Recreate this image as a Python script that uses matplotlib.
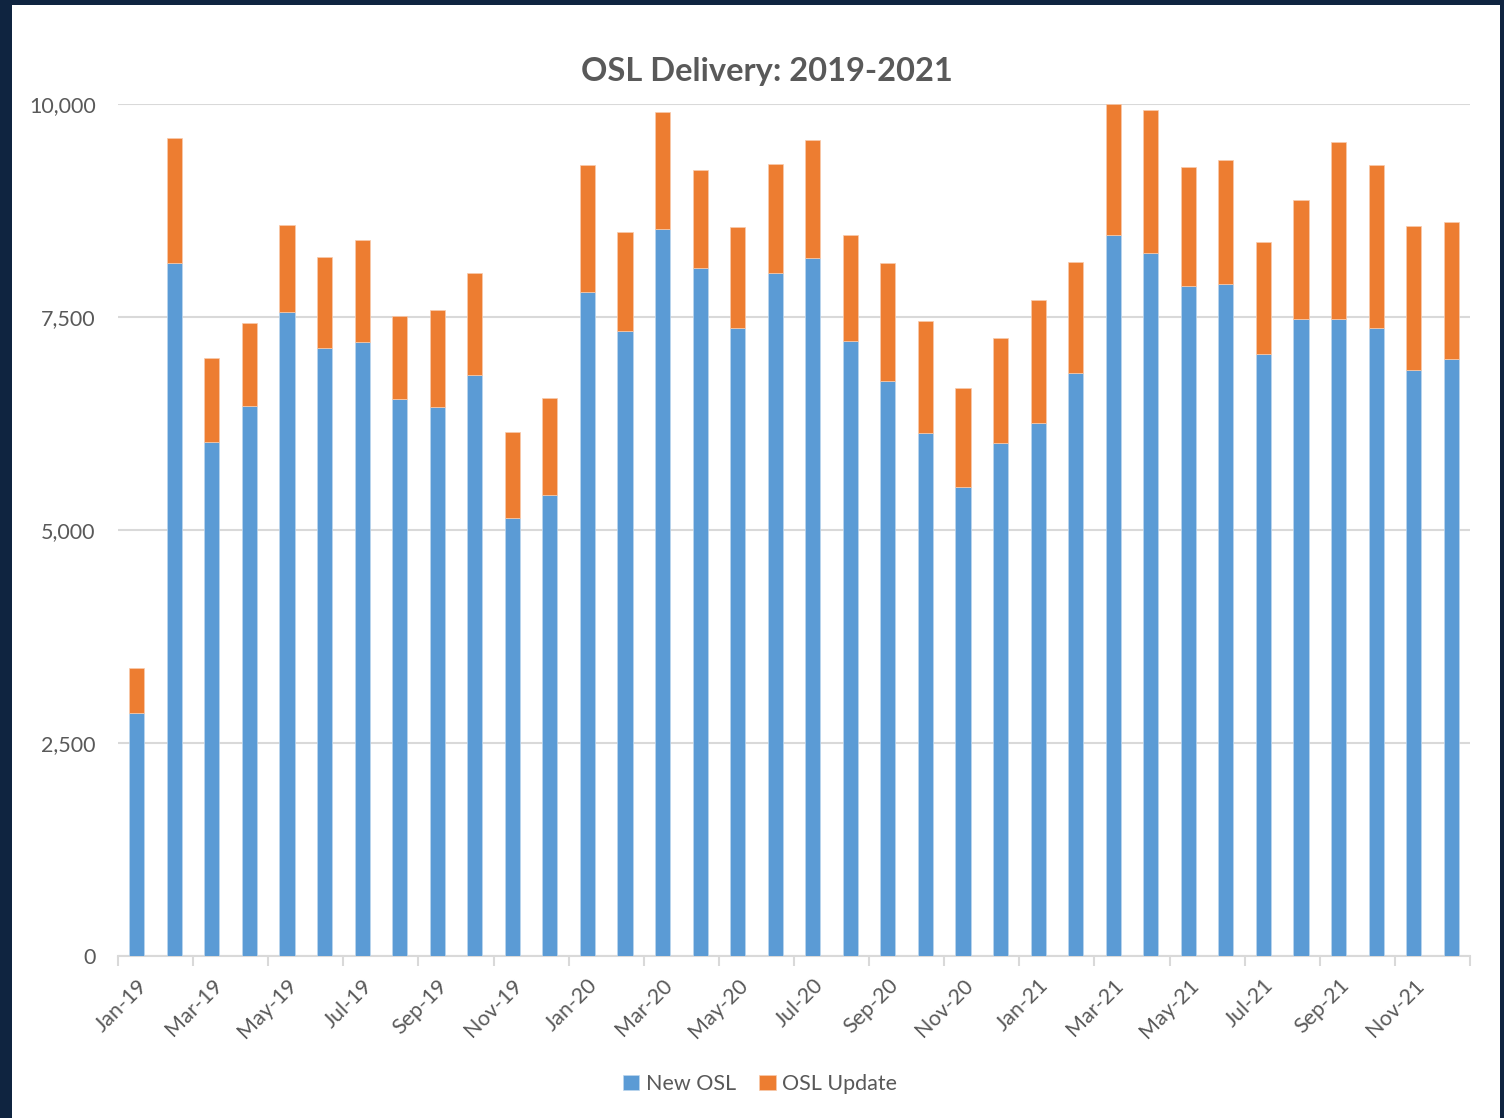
import numpy as np
import matplotlib
matplotlib.use('Agg')
import matplotlib.pyplot as plt
from matplotlib.patches import Rectangle
from matplotlib.ticker import FuncFormatter

months = ['Jan-19', 'Feb-19', 'Mar-19', 'Apr-19', 'May-19', 'Jun-19',
          'Jul-19', 'Aug-19', 'Sep-19', 'Oct-19', 'Nov-19', 'Dec-19',
          'Jan-20', 'Feb-20', 'Mar-20', 'Apr-20', 'May-20', 'Jun-20',
          'Jul-20', 'Aug-20', 'Sep-20', 'Oct-20', 'Nov-20', 'Dec-20',
          'Jan-21', 'Feb-21', 'Mar-21', 'Apr-21', 'May-21', 'Jun-21',
          'Jul-21', 'Aug-21', 'Sep-21', 'Oct-21', 'Nov-21', 'Dec-21']

new_osl = [2852, 8134, 6033, 6452, 7555, 7140, 7211, 6538, 6440, 6819, 5145, 5415,
           7793, 7332, 8537, 8071, 7367, 8013, 8196, 7214, 6753, 6135, 5501, 6025,
           6260, 6839, 8462, 8247, 7860, 7883, 7066, 7473, 7473, 7371, 6882, 7004]

osl_update = [528, 1467, 986, 978, 1021, 1060, 1189, 970, 1142, 1194, 1009, 1131,
              1487, 1162, 1365, 1154, 1193, 1279, 1381, 1252, 1381, 1318, 1166, 1229,
              1440, 1307, 1538, 1683, 1404, 1460, 1310, 1400, 2081, 1917, 1686, 1611]

BLUE = '#5B9BD5'
ORANGE = '#ED7D31'
GRAY = '#595959'
GRID = '#D9D9D9'
NAVY = '#0F2440'

plt.rcParams['font.family'] = ['Lato', 'DejaVu Sans']

fig = plt.figure(figsize=(15.04, 11.18), dpi=100)
fig.patch.set_facecolor(NAVY)
# white card inside the navy frame
card = Rectangle((12 / 1504, 0), (1500 - 12) / 1504, (1118 - 5) / 1118,
                 transform=fig.transFigure, facecolor='white',
                 edgecolor='none', zorder=-10)
fig.add_artist(card)

ax = fig.add_axes([118 / 1504, 1 - 956 / 1118, (1470 - 118) / 1504, (956 - 104) / 1118])
ax.set_facecolor('white')

x = np.arange(len(months))
ax.bar(x, new_osl, width=0.4, color=BLUE, edgecolor='#BDD7EE', linewidth=0.5,
       label='New OSL', zorder=3)
ax.bar(x, osl_update, width=0.4, bottom=new_osl, color=ORANGE, edgecolor='#F8CBAD',
       linewidth=0.5, label='OSL Update', zorder=3)

ax.set_xlim(-0.5, len(months) - 0.5)
ax.set_ylim(0, 10000)
ax.set_yticks([0, 2500, 5000, 7500, 10000])
ax.yaxis.set_major_formatter(FuncFormatter(lambda v, p: f'{int(v):,}'))
ax.grid(axis='y', color=GRID, linewidth=1.5, zorder=0)
ax.tick_params(axis='y', length=0, pad=16, labelsize=15.5, labelcolor=GRAY)

ax.set_xticks(x[::2])
ax.set_xticklabels(months[::2], rotation=45, ha='right', rotation_mode='anchor')
ax.set_xticks(np.arange(-0.5, len(months), 2), minor=True)
ax.tick_params(axis='x', which='major', length=0, pad=14, labelsize=15.5, labelcolor=GRAY)
ax.tick_params(axis='x', which='minor', length=7, width=1.5, color=GRID)

for s in ['top', 'right', 'left']:
    ax.spines[s].set_visible(False)
ax.spines['bottom'].set_color(GRID)
ax.spines['bottom'].set_linewidth(1.5)

fig.text(767 / 1504, 1 - 71 / 1118, 'OSL Delivery: 2019-2021', ha='center', va='center',
         fontsize=23.5, fontweight='bold', color=GRAY)

fig.legend(loc='center', bbox_to_anchor=(760 / 1504, 1 - 1084 / 1118), ncol=2,
           frameon=False, fontsize=15.5, labelcolor=GRAY, handlelength=0.75,
           handleheight=0.75, handletextpad=0.3, columnspacing=1.1)

fig.savefig('out.png', dpi=100, facecolor=fig.get_facecolor())
